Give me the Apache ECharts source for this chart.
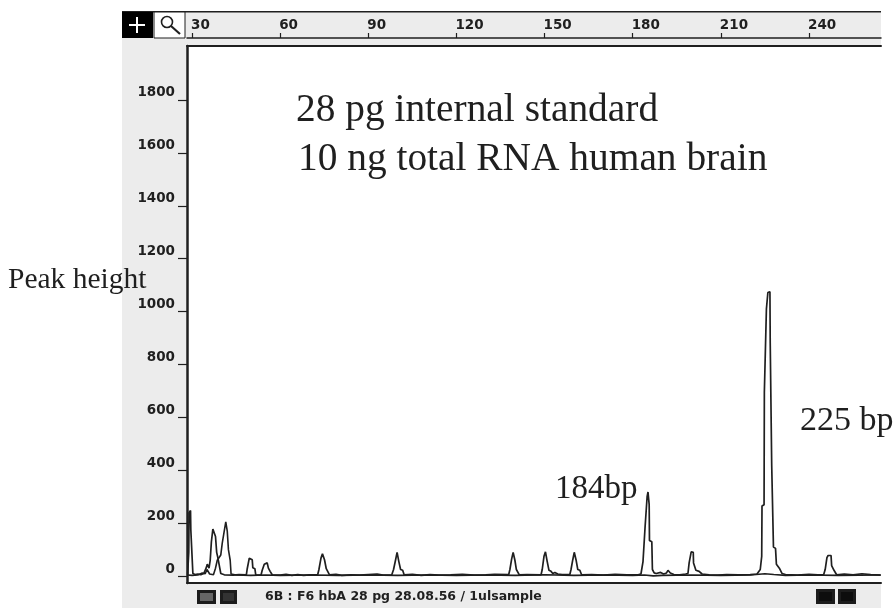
<!DOCTYPE html>
<html><head><meta charset="utf-8">
<style>html,body{margin:0;padding:0;background:#fff;overflow:hidden}#c{width:893px;height:608px}</style>
<script src="https://cdn.jsdelivr.net/npm/echarts@6/dist/echarts.min.js"></script>
</head><body><div id="c"></div>
<script>
const xTicks = [30,60,90,120,150,180,210,240];
const yTicks = [0,200,400,600,800,1000,1200,1400,1600,1800];
const traceA = [[28.5,5],[28.9,90],[29,240],[29.5,248],[29.6,175],[30.2,170],[30.3,10],[31,6],[32,8],[33,5],[34,10],[34.8,30],[35.2,45],[35.8,30],[36.2,60],[36.6,130],[37,135],[37.1,178],[37.7,185],[38,150],[38.4,90],[38.8,70],[39.3,40],[39.8,10],[41,5],[44,4],[46,6],[48.5,5],[48.8,28],[49.4,30],[49.5,68],[50.1,70],[50.5,62],[50.7,32],[51.4,28],[51.7,5],[53.5,4],[53.9,22],[54.4,28],[54.6,45],[55.6,50],[56,30],[56.6,18],[57.3,5],[60,4],[62,7],[64,3],[66,6],[68,3],[70,5],[72.8,6],[73.2,25],[73.8,28],[73.9,68],[74.3,70],[74.4,84],[75,84],[75.1,62],[75.6,60],[75.7,28],[76.3,25],[76.8,5],[79,7],[81,3],[84,5],[87,4],[90,6],[93,8],[95,4],[98,5],[98.6,25],[99.2,28],[99.3,62],[99.7,65],[99.8,90],[100.3,90],[100.4,55],[100.9,52],[101,25],[101.7,22],[102.2,5],[105,7],[108,3],[111,6],[114,4],[118,5],[122,7],[126,4],[130,5],[133,7],[137.8,6],[138.2,25],[138.7,28],[138.8,65],[139.2,68],[139.3,90],[139.8,88],[139.9,60],[140.3,58],[140.4,25],[141,22],[141.4,5],[144,6],[148.8,5],[149.2,25],[149.7,28],[149.8,75],[150.2,78],[150.3,92],[150.8,90],[150.9,55],[151.4,52],[151.5,22],[152.2,18],[152.8,10],[153.5,14],[154.5,8],[156,6],[158.6,6],[159,25],[159.5,28],[159.6,62],[160,65],[160.1,90],[160.6,88],[160.7,62],[161.2,60],[161.3,25],[162,22],[162.6,5],[166,6],[170,4],[174,7],[178,5],[182,6],[182.8,8],[183.3,14],[183.5,55],[184,60],[184.2,185],[184.8,190],[184.9,300],[185.2,318],[185.5,318],[185.6,270],[185.7,135],[186.5,130],[186.7,25],[187.3,12],[188,10],[189.5,14],[190.5,8],[191.5,12],[192,22],[192.8,12],[194,6],[196,5],[198,8],[198.8,10],[199.2,50],[199.8,52],[199.9,92],[200.6,90],[200.7,50],[201.3,48],[201.5,22],[202.6,18],[203.6,8],[206,5],[209,4],[212,6],[216,5],[220,6],[222.3,8],[223.4,25],[223.9,75],[224,265],[224.7,270],[224.8,695],[225.4,700],[225.5,1010],[225.9,1015],[226,1072],[226.7,1075],[226.8,880],[227.2,880],[227.3,420],[227.8,420],[227.9,110],[228.6,105],[228.9,45],[229.9,30],[230.8,10],[232,6],[236,4],[240,7],[243,5],[245,6],[245.5,25],[246,28],[246.1,70],[246.5,78],[247.5,78],[247.7,40],[248.3,38],[248.5,22],[249,20],[249.4,5],[252,8],[255,5],[258,9],[261,6],[264.4,4]];
const traceB = [[28.4,4],[30,3],[32,4],[33.5,12],[34.5,9],[35.1,25],[36,8],[37.3,5],[38,30],[38.6,60],[39.1,55],[39.8,80],[40.3,125],[40.8,130],[41,172],[41.5,205],[42,170],[42.4,100],[43,60],[43.3,8],[45,4],[50,3],[55,4],[60,3],[70,4],[80,3],[90,4],[100,3],[110,4],[120,3],[130,4],[140,3],[150,5],[160,3],[170,4],[180,3],[184,4],[187,1],[190,3],[200,4],[210,3],[220,4],[225,9],[228,6],[232,3],[240,4],[250,3],[264.4,4]];

const ink = '#1f1f1f';
const sans = '"DejaVu Sans", sans-serif';
const serif = '"Liberation Serif", serif';
const plain = v => String(v);
const chart = echarts.init(document.getElementById('c'), null, {renderer:'canvas'});
const baseX = {type:'value', gridIndex:0, min:28.3, max:264.5, splitLine:{show:false}};
const rect = (x,y,w,h,fill,z,stroke) => ({type:'rect', z, shape:{x,y,width:w,height:h}, style:{fill, stroke:stroke||null, lineWidth:stroke?1:0}});
const txt = (x,y,text,size,family,weight) => ({type:'text', z:100, x, y, style:{text, fill:ink, font:`${weight||'normal'} ${size}px ${family}`, textVerticalAlign:'middle'}});
const button = (x,y,w,h,fill) => [rect(x,y,w,h,'#1c1c1c',50), rect(x+3,y+3,w-6,h-6,fill,51)];

chart.setOption({
  animation:false,
  backgroundColor:'#fff',
  grid:{left:187, right:12, top:46, bottom:25, show:true, backgroundColor:'#fff', borderWidth:0, containLabel:false},
  xAxis:[
    {...baseX, position:'bottom', axisLine:{show:true,onZero:false,lineStyle:{color:ink,width:2}}, axisTick:{show:false}, axisLabel:{show:false}},
    {...baseX, position:'top', offset:8,
      axisLine:{show:true,onZero:false,lineStyle:{color:ink,width:1.5}},
      axisTick:{show:true,length:5,customValues:xTicks,lineStyle:{color:ink,width:1.2}},
      axisLabel:{show:true,customValues:xTicks,formatter:plain,color:ink,fontFamily:sans,fontWeight:'bold',fontSize:13.5,align:'left',margin:6,padding:[0,0,0,-1]}},
    {...baseX, position:'top', axisLine:{show:true,onZero:false,lineStyle:{color:ink,width:2}}, axisTick:{show:false}, axisLabel:{show:false}}
  ],
  yAxis:{type:'value', min:-26, max:2004, position:'left', splitLine:{show:false},
    axisLine:{show:true,onZero:false,lineStyle:{color:ink,width:2.5}},
    axisTick:{show:true,length:9,customValues:yTicks,lineStyle:{color:ink,width:1.2}},
    axisLabel:{show:true,customValues:yTicks,formatter:plain,color:ink,fontFamily:sans,fontWeight:'bold',fontSize:13.5,margin:12,verticalAlign:'bottom',padding:[0,0,0,0]}},
  series:[
    {type:'line',xAxisIndex:0,data:traceB,showSymbol:false,symbol:'none',lineStyle:{color:ink,width:1.6},clip:true,z:3},
    {type:'line',xAxisIndex:0,data:traceA,showSymbol:false,symbol:'none',lineStyle:{color:ink,width:1.7},clip:true,z:4}
  ],
  graphic:{elements:[
    rect(122,12,759,596,'#ececec',-10),
    rect(122,11,759,1.5,ink,60),
    rect(122,12,31,26,'#000',60),
    rect(129,24,16,2,'#fff',61), rect(136,17,2,16,'#fff',61),
    rect(154,12,31,26,'#fff',60,ink),
    {type:'circle',z:61,shape:{cx:167,cy:22,r:5.5},style:{fill:'none',stroke:ink,lineWidth:1.6}},
    {type:'line',z:61,shape:{x1:171,y1:26,x2:180,y2:34},style:{stroke:ink,lineWidth:2.2}},
    ...button(197,590,19,14,'#666'), ...button(220,590,17,14,'#333'),
    ...button(816,589,19,15,'#0d0d0d'), ...button(838,589,18,15,'#0d0d0d'),
    txt(265,597,'6B : F6 hbA 28 pg 28.08.56 / 1ulsample',12.5,sans,'bold'),
    txt(296,111,'28 pg internal standard',39.4,serif),
    txt(298,160,'10 ng total RNA human brain',39.4,serif),
    txt(8,280,'Peak height',29.5,serif),
    txt(555,489,'184bp',33,serif),
    txt(800,421,'225 bp',34,serif)
  ]}
});
</script></body></html>
